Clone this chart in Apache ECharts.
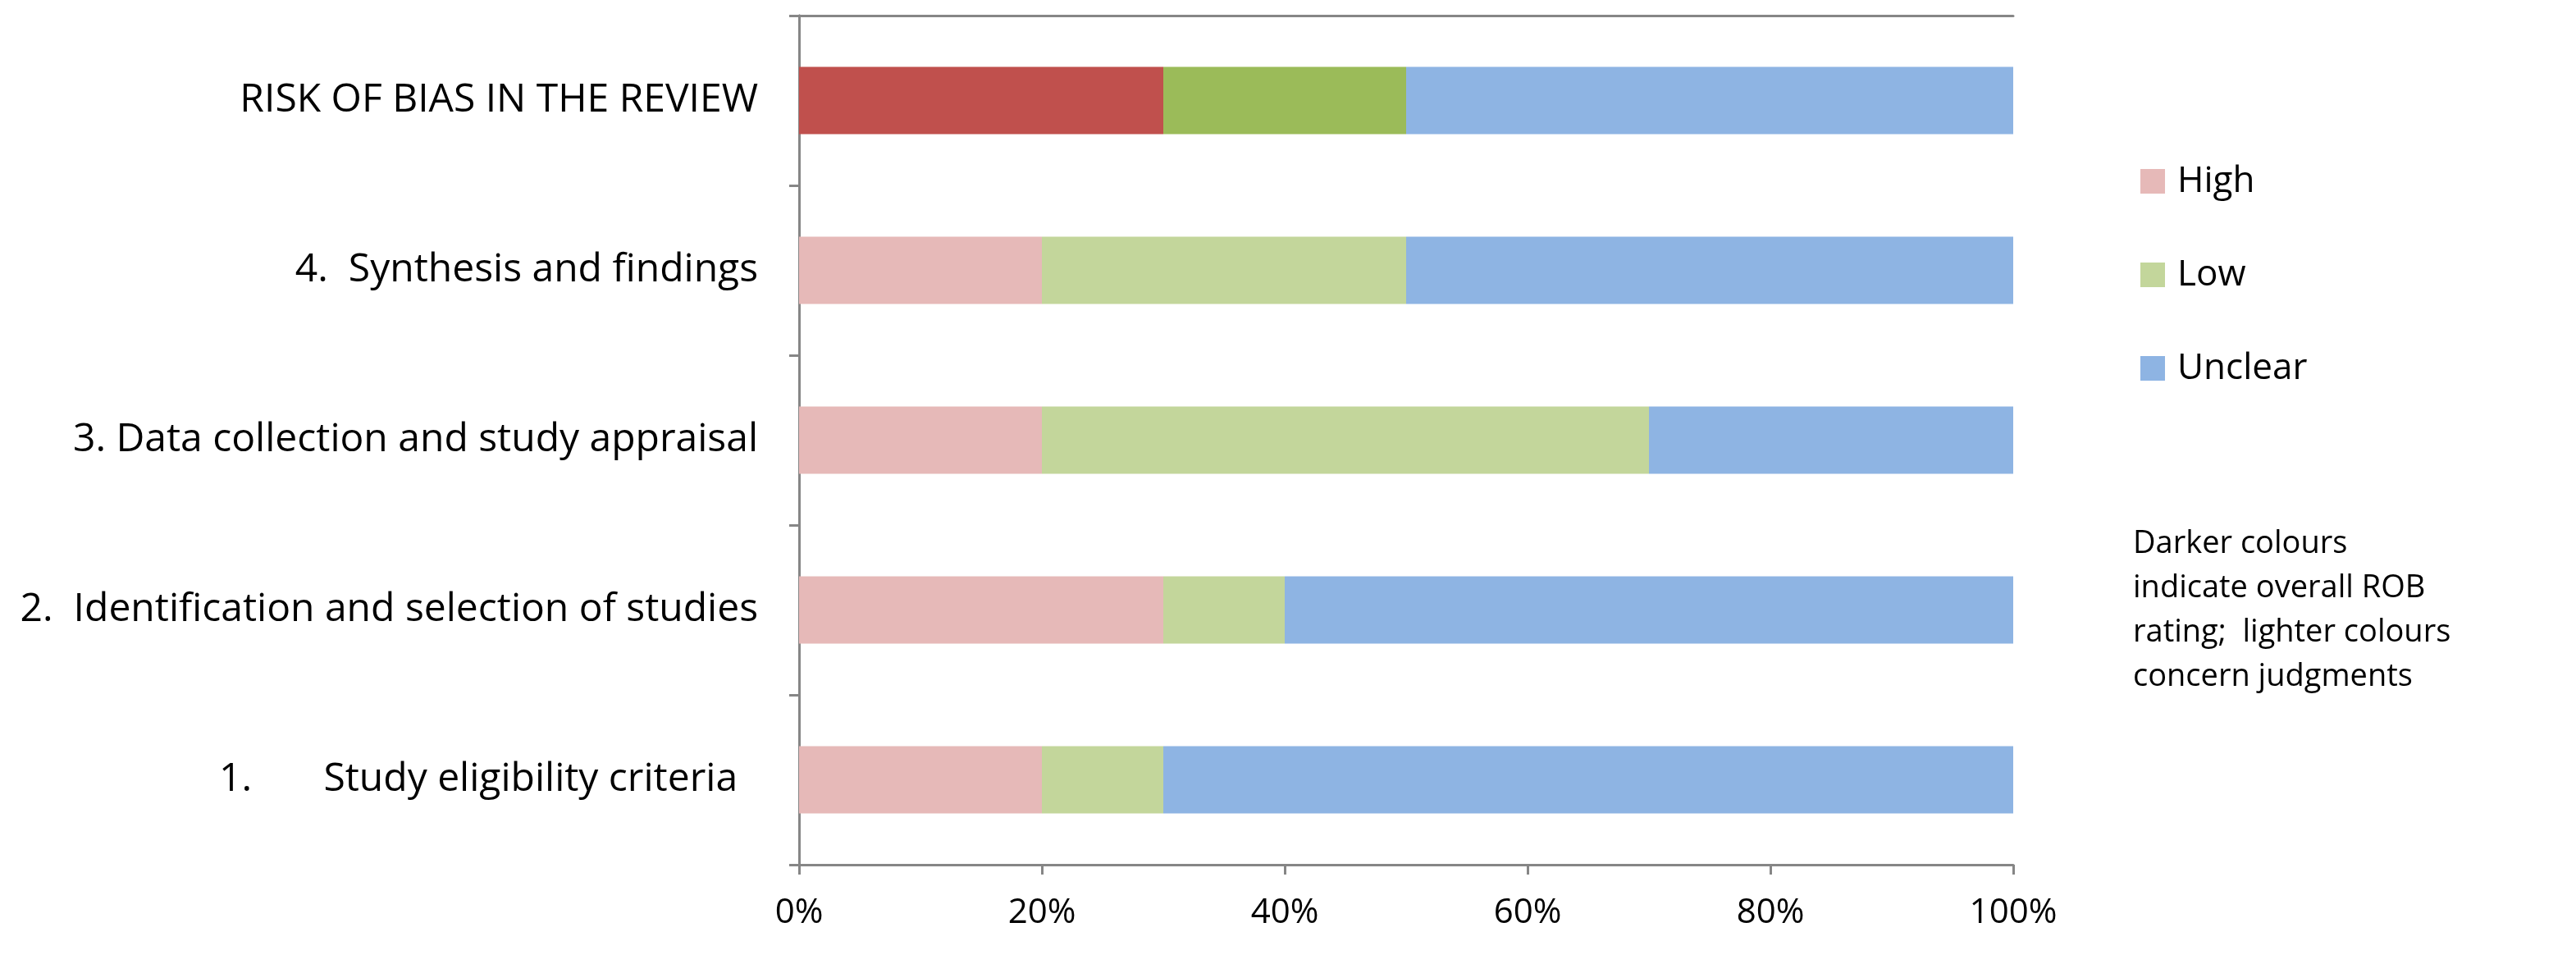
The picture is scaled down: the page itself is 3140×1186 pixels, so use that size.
<!DOCTYPE html>
<html><head><meta charset="utf-8">
<script src="https://cdn.jsdelivr.net/npm/echarts@6/dist/echarts.min.js"></script>
<style>html,body{margin:0;background:#fff}#c{width:3140px;height:1186px}</style>
</head><body><div id="c"></div>
<script>
const categories = [
  "RISK OF BIAS IN THE REVIEW",
  "4.  Synthesis and findings",
  "3. Data collection and study appraisal",
  "2.  Identification and selection of studies",
  "1.       Study eligibility criteria  "
];
const high = [30, 20, 20, 30, 20];
const low = [20, 30, 50, 10, 10];
const unclear = [50, 50, 30, 60, 70];
const xTicks = [0, 20, 40, 60, 80, 100];

const light = { high: "#e6b9b8", low: "#c3d69b", unclear: "#8eb4e3" };
const dark = { high: "#c0504d", low: "#9bbb59", unclear: "#8eb4e3" };
const font = "'Open Sans', 'Noto Sans', sans-serif";
const axisColor = "#868686";

// first row is the overall rating, drawn in darker colours
function rows(vals, key) {
  return vals.map((v, i) => i === 0 ? { value: v, itemStyle: { color: dark[key] } } : v);
}

const chart = echarts.init(document.getElementById("c"));
chart.setOption({
  animation: false,
  textStyle: { fontFamily: font },
  grid: { left: 974, right: 686, top: 19, bottom: 132 },
  legend: {
    orient: "vertical", left: 2604, top: 194, itemGap: 70,
    itemWidth: 30, itemHeight: 30, icon: "rect",
    textStyle: { fontSize: 44, color: "#000", fontFamily: font, padding: [0, 0, 0, 10] },
    data: ["High", "Low", "Unclear"]
  },
  graphic: [{
    type: "text", left: 2600, top: 636,
    style: {
      text: "Darker colours\nindicate overall ROB\nrating;  lighter colours\nconcern judgments",
      font: "38px " + font, lineHeight: 54, fill: "#000"
    }
  }],
  xAxis: [{
    type: "value", min: 0, max: 100, interval: 20,
    axisLine: { show: true, lineStyle: { color: axisColor, width: 3 } },
    axisTick: { show: true, length: 12, lineStyle: { color: axisColor, width: 3 } },
    splitLine: { show: false },
    axisLabel: { fontSize: 42, color: "#000", margin: 38, formatter: v => xTicks.includes(v) ? v + "%" : "" }
  }, {
    type: "value", position: "top", min: 0, max: 100,
    axisLine: { show: true, lineStyle: { color: axisColor, width: 3 } },
    axisTick: { show: false }, axisLabel: { show: false }, splitLine: { show: false }
  }],
  yAxis: [{
    type: "category", inverse: true, data: categories,
    axisLine: { show: true, lineStyle: { color: axisColor, width: 3 } },
    axisTick: { show: true, length: 12, lineStyle: { color: axisColor, width: 3 } },
    axisLabel: { fontSize: 48, color: "#000", margin: 50 }
  }, {
    type: "category", position: "right", inverse: true, data: categories,
    axisLine: { show: true, lineStyle: { color: axisColor, width: 3 } },
    axisTick: { show: false }, axisLabel: { show: false }
  }],
  series: [
    { name: "High", type: "bar", stack: "s", barWidth: 82, data: rows(high, "high"), itemStyle: { color: light.high } },
    { name: "Low", type: "bar", stack: "s", barWidth: 82, data: rows(low, "low"), itemStyle: { color: light.low } },
    { name: "Unclear", type: "bar", stack: "s", barWidth: 82, data: rows(unclear, "unclear"), itemStyle: { color: light.unclear } }
  ]
});
</script></body></html>
